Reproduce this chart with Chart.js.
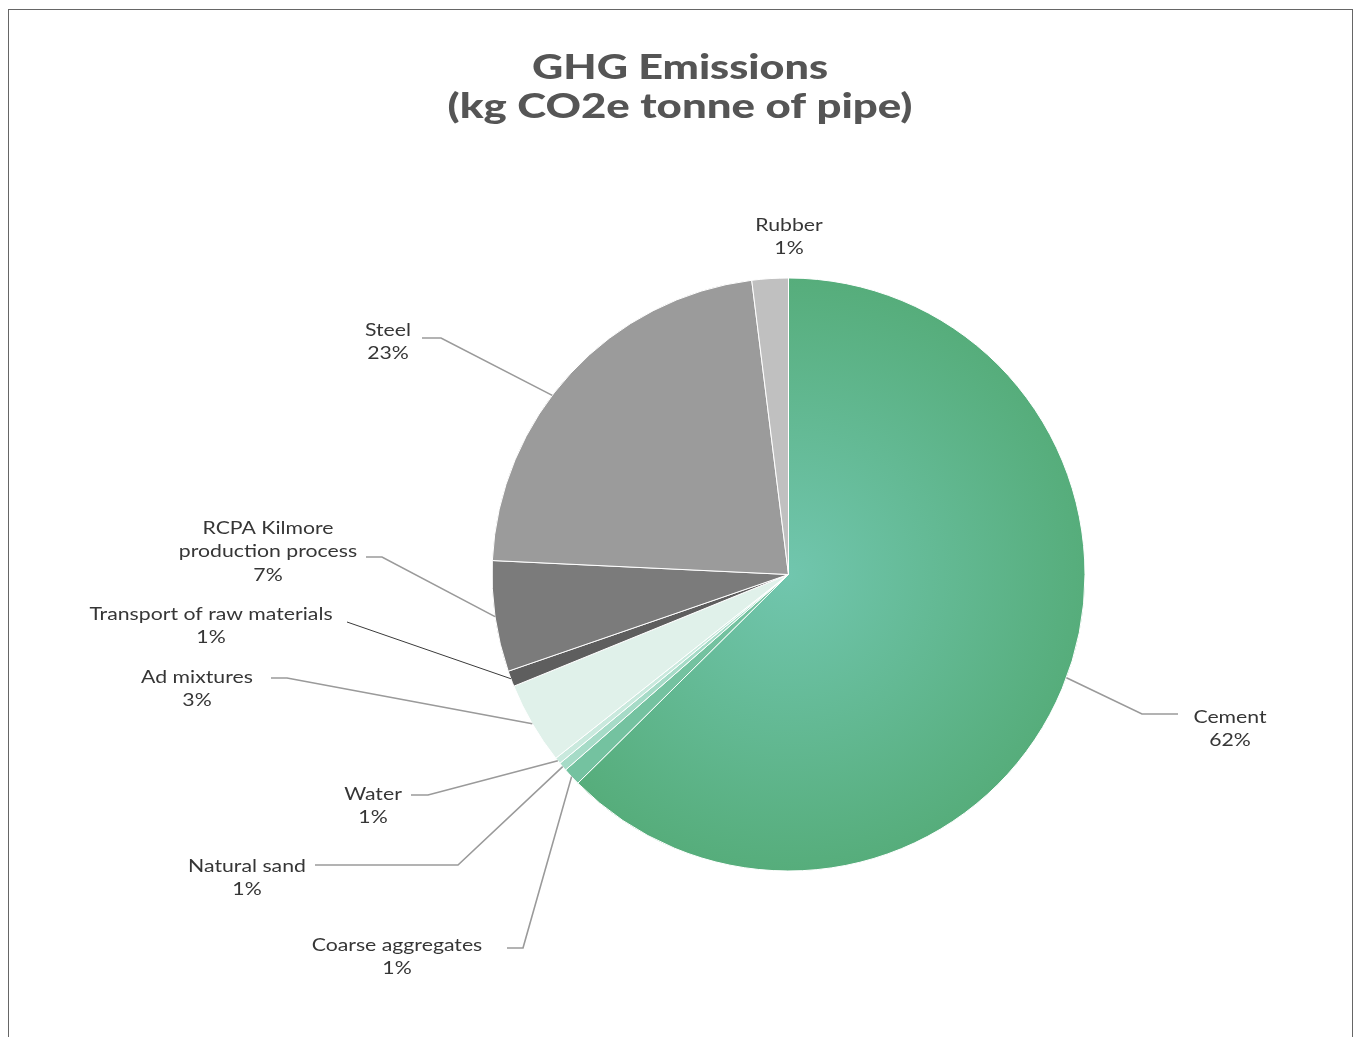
<!DOCTYPE html>
<html>
<head>
<meta charset="utf-8">
<script src="https://cdn.jsdelivr.net/npm/chart.js@4"></script>
<style>
  html, body { margin: 0; padding: 0; background: #fff; overflow: hidden; }
  #wrap { position: relative; width: 1356px; height: 1037px; }
  #frame { position: absolute; left: 8px; top: 9px; width: 1345px; height: 1100px;
           border: 1px solid #666; box-sizing: border-box; pointer-events: none; }
  canvas { position: absolute; left: 0; top: 0; }
</style>
</head>
<body>
<div id="wrap">
  <canvas id="c" width="1356" height="1037"></canvas>
  <div id="frame"></div>
</div>
<script>
// ---- data ----
const titleLines = ['GHG Emissions', '(kg CO2e tonne of pipe)'];
const categories = ['Cement', 'Coarse aggregates', 'Natural sand', 'Water', 'Ad mixtures',
  'Transport of raw materials', 'RCPA Kilmore production process', 'Steel', 'Rubber'];
const labelLines = [['Cement'], ['Coarse aggregates'], ['Natural sand'], ['Water'], ['Ad mixtures'],
  ['Transport of raw materials'], ['RCPA Kilmore', 'production process'], ['Steel'], ['Rubber']];
const shareValues = [62.6, 0.97, 0.47, 0.35, 4.49, 0.86, 6.04, 22.28, 1.98];
const percentLabels = ['62%', '1%', '1%', '1%', '3%', '1%', '7%', '23%', '1%'];

// ---- styles ----
const sliceColors = [null, '#74c2a0', '#a6dbc7', '#c9e9dd', '#e0f1ea', '#5e5e5e', '#7b7b7b', '#9b9b9b', '#c0c0c0'];
// label layout: text centre x, first-line y, optional elbow and end of the leader line (canvas px)
const labelLayout = [
  { tx: 1230, ty: 717, elbow: [1142, 714], end: [1178, 714], frac: 0.49 },
  { tx: 397, ty: 945, elbow: [523, 948], end: [507, 948] },
  { tx: 247, ty: 866, elbow: [458, 865], end: [315, 865] },
  { tx: 373, ty: 794, elbow: [428, 795], end: [411, 795] },
  { tx: 197, ty: 677, elbow: [287, 678], end: [271, 678] },
  { tx: 211, ty: 614, elbow: [347, 622], end: [347, 622], dark: true },
  { tx: 268, ty: 528, elbow: [382, 557], end: [366, 557] },
  { tx: 388, ty: 330, elbow: [441, 338], end: [422, 338], frac: 0.43 },
  { tx: 789, ty: 225 }
];
const labelStretch = 1.18;

function cementGradient(ctx) {
  const chart = ctx.chart;
  const a = chart.chartArea;
  if (!a) return '#5fb88c';
  const cx = (a.left + a.right) / 2, cy = (a.top + a.bottom) / 2;
  const r = Math.min(a.right - a.left, a.bottom - a.top) / 2;
  const g = chart.ctx.createRadialGradient(cx, cy, 0, cx, cy, r);
  g.addColorStop(0, '#71c6ae');
  g.addColorStop(1, '#56ad7b');
  return g;
}

function stretchedText(ctx, t, x, y, sx) {
  ctx.save();
  ctx.translate(x, y);
  ctx.scale(sx, 1);
  ctx.fillText(t, 0, 0);
  ctx.restore();
}

const labelPlugin = {
  id: 'labels',
  afterDraw(chart) {
    const ctx = chart.ctx;
    ctx.save();
    // title
    ctx.fillStyle = '#555555';
    ctx.textAlign = 'center';
    ctx.textBaseline = 'middle';
    ctx.font = '900 34px Lato, "DejaVu Sans", sans-serif';
    const titleTargets = [296, 465];
    titleLines.forEach((t, i) => {
      const w = ctx.measureText(t).width;
      stretchedText(ctx, t, 680, 68 + i * 39, titleTargets[i] / w);
    });
    // slice labels
    const meta = chart.getDatasetMeta(0);
    meta.data.forEach((arc, i) => {
      const L = labelLayout[i];
      const p = arc.getProps(['x', 'y', 'startAngle', 'endAngle', 'outerRadius'], true);
      const f = L.frac !== undefined ? L.frac : 0.5;
      const ang = p.startAngle + (p.endAngle - p.startAngle) * f;
      const ax = p.x + Math.cos(ang) * p.outerRadius;
      const ay = p.y + Math.sin(ang) * p.outerRadius;
      if (L.elbow) {
        ctx.beginPath();
        ctx.moveTo(ax, ay);
        ctx.lineTo(L.elbow[0], L.elbow[1]);
        ctx.lineTo(L.end[0], L.end[1]);
        ctx.strokeStyle = L.dark ? '#3a3a3a' : '#9a9a9a';
        ctx.lineWidth = L.dark ? 1 : 1.6;
        ctx.stroke();
      }
      ctx.fillStyle = '#363636';
      ctx.font = '18px Lato, "Open Sans", sans-serif';
      ctx.textAlign = 'center';
      ctx.textBaseline = 'middle';
      const lines = labelLines[i].concat([percentLabels[i]]);
      lines.forEach((t, k) => stretchedText(ctx, t, L.tx, L.ty + k * 23.5, labelStretch));
    });
    ctx.restore();
  }
};

new Chart(document.getElementById('c'), {
  type: 'pie',
  data: {
    labels: categories,
    datasets: [{
      data: shareValues,
      backgroundColor: (ctx) => ctx.dataIndex === 0 ? cementGradient(ctx) : sliceColors[ctx.dataIndex],
      borderColor: '#ffffff',
      borderWidth: 1
    }]
  },
  options: {
    responsive: false,
    animation: false,
    layout: { padding: { left: 491.5, right: 270.5, top: 277.5, bottom: 165.5 } },
    plugins: { legend: { display: false }, tooltip: { enabled: false }, title: { display: false } }
  },
  plugins: [labelPlugin]
});
</script>
</body>
</html>
